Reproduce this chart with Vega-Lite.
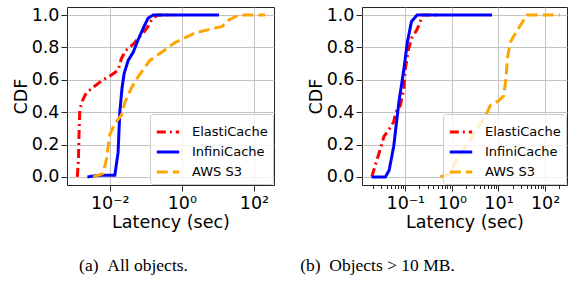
{
  "$schema": "https://vega.github.io/schema/vega-lite/v6.json",
  "padding": {"left": 11, "top": 5, "right": 0, "bottom": 0},
  "background": "white",
  "spacing": 24,
  "align": "none",
  "config": {
    "font": "DejaVu Sans",
    "view": {"stroke": "#262626", "strokeWidth": 1},
    "axis": {
      "labelFont": "DejaVu Sans", "titleFont": "DejaVu Sans",
      "labelFontSize": 17.5, "titleFontSize": 17.5, "titleFontWeight": "normal",
      "labelColor": "black", "titleColor": "black",
      "tickColor": "#262626", "tickSize": 6, "tickWidth": 1,
      "domain": false, "gridColor": "#c4c4c4", "gridWidth": 1, "labelPadding": 2
    },
    "axisY": {"titlePadding": 1},
    "axisX": {"titlePadding": 2, "labelPadding": 3},
    "legend": {
      "orient": "bottom-right", "offset": 1, "padding": 5,
      "fillColor": "rgba(255,255,255,0.8)", "strokeColor": "#cccccc", "cornerRadius": 3,
      "labelFontSize": 13, "labelFont": "DejaVu Sans", "labelColor": "black",
      "symbolType": "stroke", "symbolStrokeWidth": 3, "symbolSize": 500,
      "labelOffset": 11, "rowPadding": -2, "labelLimit": 200
    },
    "title": {"font": "Liberation Serif", "fontSize": 17.5, "fontWeight": "normal", "color": "black"}
  },
  "resolve": {"legend": {"color": "independent", "strokeDash": "independent"}},
  "datasets": {
    "cdf": [
      {"panel": "a", "series": "ElastiCache", "i": 1, "latency": 0.00126, "cdf": 0},
      {"panel": "a", "series": "ElastiCache", "i": 2, "latency": 0.00135, "cdf": 0.1},
      {"panel": "a", "series": "ElastiCache", "i": 3, "latency": 0.00142, "cdf": 0.3},
      {"panel": "a", "series": "ElastiCache", "i": 4, "latency": 0.00148, "cdf": 0.42},
      {"panel": "a", "series": "ElastiCache", "i": 5, "latency": 0.00182, "cdf": 0.48},
      {"panel": "a", "series": "ElastiCache", "i": 6, "latency": 0.00224, "cdf": 0.52},
      {"panel": "a", "series": "ElastiCache", "i": 7, "latency": 0.0038, "cdf": 0.56},
      {"panel": "a", "series": "ElastiCache", "i": 8, "latency": 0.00646, "cdf": 0.60},
      {"panel": "a", "series": "ElastiCache", "i": 9, "latency": 0.0112, "cdf": 0.63},
      {"panel": "a", "series": "ElastiCache", "i": 10, "latency": 0.017, "cdf": 0.66},
      {"panel": "a", "series": "ElastiCache", "i": 11, "latency": 0.0209, "cdf": 0.73},
      {"panel": "a", "series": "ElastiCache", "i": 12, "latency": 0.0275, "cdf": 0.78},
      {"panel": "a", "series": "ElastiCache", "i": 13, "latency": 0.0447, "cdf": 0.82},
      {"panel": "a", "series": "ElastiCache", "i": 14, "latency": 0.0851, "cdf": 0.89},
      {"panel": "a", "series": "ElastiCache", "i": 15, "latency": 0.115, "cdf": 0.93},
      {"panel": "a", "series": "ElastiCache", "i": 16, "latency": 0.151, "cdf": 0.98},
      {"panel": "a", "series": "ElastiCache", "i": 17, "latency": 0.219, "cdf": 1.0},
      {"panel": "a", "series": "ElastiCache", "i": 18, "latency": 0.575, "cdf": 1.0},
      {"panel": "a", "series": "InfiniCache", "i": 1, "latency": 0.0024, "cdf": 0},
      {"panel": "a", "series": "InfiniCache", "i": 2, "latency": 0.005, "cdf": 0.01},
      {"panel": "a", "series": "InfiniCache", "i": 3, "latency": 0.0138, "cdf": 0.01},
      {"panel": "a", "series": "InfiniCache", "i": 4, "latency": 0.017, "cdf": 0.15},
      {"panel": "a", "series": "InfiniCache", "i": 5, "latency": 0.019, "cdf": 0.40},
      {"panel": "a", "series": "InfiniCache", "i": 6, "latency": 0.0219, "cdf": 0.55},
      {"panel": "a", "series": "InfiniCache", "i": 7, "latency": 0.0251, "cdf": 0.64},
      {"panel": "a", "series": "InfiniCache", "i": 8, "latency": 0.0324, "cdf": 0.72},
      {"panel": "a", "series": "InfiniCache", "i": 9, "latency": 0.0447, "cdf": 0.77},
      {"panel": "a", "series": "InfiniCache", "i": 10, "latency": 0.0617, "cdf": 0.85},
      {"panel": "a", "series": "InfiniCache", "i": 11, "latency": 0.0851, "cdf": 0.92},
      {"panel": "a", "series": "InfiniCache", "i": 12, "latency": 0.115, "cdf": 0.98},
      {"panel": "a", "series": "InfiniCache", "i": 13, "latency": 0.158, "cdf": 1.0},
      {"panel": "a", "series": "InfiniCache", "i": 14, "latency": 10.7, "cdf": 1.0},
      {"panel": "a", "series": "AWS S3", "i": 1, "latency": 0.00347, "cdf": 0},
      {"panel": "a", "series": "AWS S3", "i": 2, "latency": 0.00646, "cdf": 0.02},
      {"panel": "a", "series": "AWS S3", "i": 3, "latency": 0.00813, "cdf": 0.11},
      {"panel": "a", "series": "AWS S3", "i": 4, "latency": 0.01, "cdf": 0.26},
      {"panel": "a", "series": "AWS S3", "i": 5, "latency": 0.0138, "cdf": 0.33},
      {"panel": "a", "series": "AWS S3", "i": 6, "latency": 0.0209, "cdf": 0.38},
      {"panel": "a", "series": "AWS S3", "i": 7, "latency": 0.0263, "cdf": 0.46},
      {"panel": "a", "series": "AWS S3", "i": 8, "latency": 0.0398, "cdf": 0.55},
      {"panel": "a", "series": "AWS S3", "i": 9, "latency": 0.0617, "cdf": 0.62},
      {"panel": "a", "series": "AWS S3", "i": 10, "latency": 0.129, "cdf": 0.72},
      {"panel": "a", "series": "AWS S3", "i": 11, "latency": 0.275, "cdf": 0.77},
      {"panel": "a", "series": "AWS S3", "i": 12, "latency": 0.646, "cdf": 0.83},
      {"panel": "a", "series": "AWS S3", "i": 13, "latency": 1.0, "cdf": 0.85},
      {"panel": "a", "series": "AWS S3", "i": 14, "latency": 2.34, "cdf": 0.89},
      {"panel": "a", "series": "AWS S3", "i": 15, "latency": 5.5, "cdf": 0.91},
      {"panel": "a", "series": "AWS S3", "i": 16, "latency": 13.2, "cdf": 0.93},
      {"panel": "a", "series": "AWS S3", "i": 17, "latency": 20, "cdf": 0.97},
      {"panel": "a", "series": "AWS S3", "i": 18, "latency": 38, "cdf": 1.0},
      {"panel": "a", "series": "AWS S3", "i": 19, "latency": 204, "cdf": 1.0},
      {"panel": "b", "series": "ElastiCache", "i": 1, "latency": 0.019, "cdf": 0},
      {"panel": "b", "series": "ElastiCache", "i": 2, "latency": 0.0224, "cdf": 0.07},
      {"panel": "b", "series": "ElastiCache", "i": 3, "latency": 0.0288, "cdf": 0.17},
      {"panel": "b", "series": "ElastiCache", "i": 4, "latency": 0.0347, "cdf": 0.25},
      {"panel": "b", "series": "ElastiCache", "i": 5, "latency": 0.0437, "cdf": 0.29},
      {"panel": "b", "series": "ElastiCache", "i": 6, "latency": 0.0562, "cdf": 0.34},
      {"panel": "b", "series": "ElastiCache", "i": 7, "latency": 0.0617, "cdf": 0.40},
      {"panel": "b", "series": "ElastiCache", "i": 8, "latency": 0.0776, "cdf": 0.44},
      {"panel": "b", "series": "ElastiCache", "i": 9, "latency": 0.0933, "cdf": 0.55},
      {"panel": "b", "series": "ElastiCache", "i": 10, "latency": 0.1, "cdf": 0.67},
      {"panel": "b", "series": "ElastiCache", "i": 11, "latency": 0.117, "cdf": 0.79},
      {"panel": "b", "series": "ElastiCache", "i": 12, "latency": 0.138, "cdf": 0.86},
      {"panel": "b", "series": "ElastiCache", "i": 13, "latency": 0.178, "cdf": 0.91},
      {"panel": "b", "series": "ElastiCache", "i": 14, "latency": 0.209, "cdf": 0.96},
      {"panel": "b", "series": "ElastiCache", "i": 15, "latency": 0.229, "cdf": 1.0},
      {"panel": "b", "series": "ElastiCache", "i": 16, "latency": 0.479, "cdf": 1.0},
      {"panel": "b", "series": "InfiniCache", "i": 1, "latency": 0.019, "cdf": 0},
      {"panel": "b", "series": "InfiniCache", "i": 2, "latency": 0.0372, "cdf": 0},
      {"panel": "b", "series": "InfiniCache", "i": 3, "latency": 0.0447, "cdf": 0.04},
      {"panel": "b", "series": "InfiniCache", "i": 4, "latency": 0.0562, "cdf": 0.19},
      {"panel": "b", "series": "InfiniCache", "i": 5, "latency": 0.0724, "cdf": 0.46},
      {"panel": "b", "series": "InfiniCache", "i": 6, "latency": 0.0933, "cdf": 0.67},
      {"panel": "b", "series": "InfiniCache", "i": 7, "latency": 0.11, "cdf": 0.83},
      {"panel": "b", "series": "InfiniCache", "i": 8, "latency": 0.135, "cdf": 0.96},
      {"panel": "b", "series": "InfiniCache", "i": 9, "latency": 0.178, "cdf": 1.0},
      {"panel": "b", "series": "InfiniCache", "i": 10, "latency": 7.24, "cdf": 1.0},
      {"panel": "b", "series": "AWS S3", "i": 1, "latency": 0.562, "cdf": 0},
      {"panel": "b", "series": "AWS S3", "i": 2, "latency": 0.912, "cdf": 0.02},
      {"panel": "b", "series": "AWS S3", "i": 3, "latency": 1.29, "cdf": 0.11},
      {"panel": "b", "series": "AWS S3", "i": 4, "latency": 2.09, "cdf": 0.2},
      {"panel": "b", "series": "AWS S3", "i": 5, "latency": 3.47, "cdf": 0.30},
      {"panel": "b", "series": "AWS S3", "i": 6, "latency": 5.13, "cdf": 0.37},
      {"panel": "b", "series": "AWS S3", "i": 7, "latency": 6.61, "cdf": 0.44},
      {"panel": "b", "series": "AWS S3", "i": 8, "latency": 10, "cdf": 0.47},
      {"panel": "b", "series": "AWS S3", "i": 9, "latency": 12.9, "cdf": 0.5},
      {"panel": "b", "series": "AWS S3", "i": 10, "latency": 14.5, "cdf": 0.61},
      {"panel": "b", "series": "AWS S3", "i": 11, "latency": 15.5, "cdf": 0.73},
      {"panel": "b", "series": "AWS S3", "i": 12, "latency": 17.8, "cdf": 0.83},
      {"panel": "b", "series": "AWS S3", "i": 13, "latency": 24.5, "cdf": 0.90},
      {"panel": "b", "series": "AWS S3", "i": 14, "latency": 31.6, "cdf": 0.95},
      {"panel": "b", "series": "AWS S3", "i": 15, "latency": 40.7, "cdf": 1.0},
      {"panel": "b", "series": "AWS S3", "i": 16, "latency": 209, "cdf": 1.0}
    ]
  },
  "hconcat": [
    {
      "width": 207, "height": 178,
      "title": {"text": "(a)\u00a0\u00a0All objects.", "orient": "bottom", "anchor": "middle", "frame": "group", "dx": -37, "offset": 26},
      "data": {"name": "cdf"},
      "transform": [{"filter": "datum.panel == 'a'"}],
      "mark": {"type": "line", "strokeWidth": 3},
      "encoding": {
        "x": {"field": "latency", "type": "quantitative",
              "scale": {"type": "log", "domain": [0.000652, 359], "nice": false},
              "axis": {"values": [0.01, 1, 100], "title": "Latency (sec)",
                       "labelExpr": "'10' + (round(log(datum.value)/LN10) == -2 ? '⁻²' : round(log(datum.value)/LN10) == -1 ? '⁻¹' : round(log(datum.value)/LN10) == 0 ? '⁰' : round(log(datum.value)/LN10) == 1 ? '¹' : '²')"}},
        "y": {"field": "cdf", "type": "quantitative",
              "scale": {"domain": [-0.05, 1.05], "nice": false, "zero": false},
              "axis": {"values": [0, 0.2, 0.4, 0.6, 0.8, 1], "format": ".1f", "title": "CDF"}},
        "color": {"field": "series", "type": "nominal",
                  "scale": {"domain": ["ElastiCache", "InfiniCache", "AWS S3"], "range": ["#ff0000", "#0000ff", "#ffa500"]},
                  "legend": {"title": null}},
        "strokeDash": {"field": "series", "type": "nominal",
                  "scale": {"domain": ["ElastiCache", "InfiniCache", "AWS S3"], "range": [[9, 4, 2, 4], [1, 0], [11, 5]]},
                  "legend": {"title": null}},
        "order": {"field": "i", "type": "quantitative"}
      }
    },
    {
      "width": 205, "height": 178,
      "title": {"text": "(b)\u00a0\u00a0Objects > 10 MB.", "orient": "bottom", "anchor": "middle", "frame": "group", "dx": -87, "offset": 26},
      "data": {"name": "cdf"},
      "transform": [{"filter": "datum.panel == 'b'"}],
      "resolve": {"axis": {"x": "independent"}},
      "layer": [
        {
          "mark": {"type": "line", "strokeWidth": 3},
          "encoding": {
            "x": {"field": "latency", "type": "quantitative",
                  "scale": {"type": "log", "domain": [0.0117, 296], "nice": false},
                  "axis": {"values": [0.1, 1, 10, 100], "title": "Latency (sec)",
                           "labelExpr": "'10' + (round(log(datum.value)/LN10) == -2 ? '⁻²' : round(log(datum.value)/LN10) == -1 ? '⁻¹' : round(log(datum.value)/LN10) == 0 ? '⁰' : round(log(datum.value)/LN10) == 1 ? '¹' : '²')"}},
            "y": {"field": "cdf", "type": "quantitative",
                  "scale": {"domain": [-0.05, 1.05], "nice": false, "zero": false},
                  "axis": {"values": [0, 0.2, 0.4, 0.6, 0.8, 1], "format": ".1f", "title": "CDF"}},
            "color": {"field": "series", "type": "nominal",
                      "scale": {"domain": ["ElastiCache", "InfiniCache", "AWS S3"], "range": ["#ff0000", "#0000ff", "#ffa500"]},
                      "legend": {"title": null}},
            "strokeDash": {"field": "series", "type": "nominal",
                      "scale": {"domain": ["ElastiCache", "InfiniCache", "AWS S3"], "range": [[9, 4, 2, 4], [1, 0], [11, 5]]},
                      "legend": {"title": null}},
            "order": {"field": "i", "type": "quantitative"}
          }
        },
        {
          "mark": {"type": "point", "opacity": 0},
          "encoding": {
            "x": {"field": "latency", "type": "quantitative",
                  "scale": {"type": "log", "domain": [0.0117, 296], "nice": false},
                  "axis": {"orient": "bottom", "values": [0.02, 0.03, 0.04, 0.05, 0.06, 0.07, 0.08, 0.09, 0.2, 0.3, 0.4, 0.5, 0.6, 0.7, 0.8, 0.9, 2, 3, 4, 5, 6, 7, 8, 9, 20, 30, 40, 50, 60, 70, 80, 90, 200],
                           "labels": false, "grid": false, "tickSize": 3.5, "title": null}}
          }
        }
      ]
    }
  ]
}
